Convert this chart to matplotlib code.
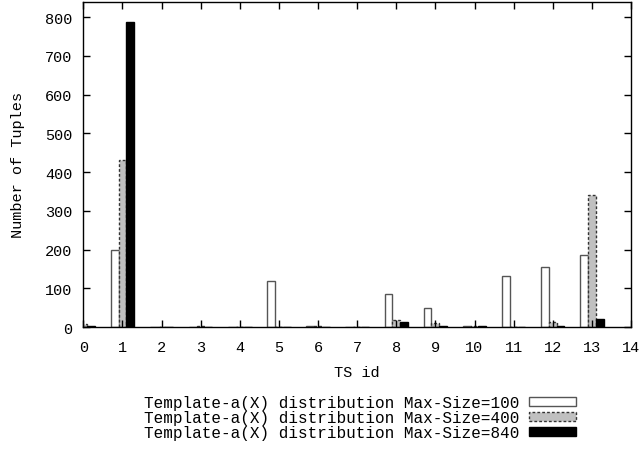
import numpy as np
import matplotlib.pyplot as plt
from matplotlib.patches import Patch

# Tuples per TS id for the three Max-Size settings
ts_ids = np.arange(14)
size_100 = [12, 200, 1, 1, 1, 120, 3, 1, 84, 50, 2, 132, 155, 185]
size_400 = [8, 432, 1, 3, 1, 1, 2, 1, 17, 10, 2, 1, 12, 340]
size_840 = [2, 788, 1, 1, 1, 1, 1, 1, 13, 3, 3, 1, 2, 21]
labels = ['Template-a(X) distribution Max-Size=100',
          'Template-a(X) distribution Max-Size=400',
          'Template-a(X) distribution Max-Size=840']

plt.rcParams['font.family'] = ['Liberation Mono', 'DejaVu Sans Mono']
plt.rcParams['font.size'] = 11

fig = plt.figure(figsize=(6.43, 4.52), dpi=100)
ax = fig.add_axes([0.1296, 0.2743, 0.8517, 0.7197])

w = 0.2
ax.bar(ts_ids - w, size_100, w, facecolor='white', edgecolor='#555555', linewidth=1.0)
ax.bar(ts_ids, size_400, w, facecolor='#c0c0c0', edgecolor='#333333', linewidth=1.0,
       linestyle=(0, (2, 1.5)))
ax.bar(ts_ids + w, size_840, w, facecolor='black', edgecolor='black', linewidth=1.0)

ax.set_xlim(0, 14)
ax.set_ylim(0, 840)
ax.set_xticks(range(15))
ax.set_yticks(range(0, 801, 100))
ax.tick_params(direction='in', top=True, right=True, length=5, width=1)
ax.tick_params(axis='x', pad=9)
ax.tick_params(axis='y', pad=8)
for s in ax.spines.values():
    s.set_linewidth(1.0)

ax.set_xlabel('TS id', labelpad=8)
ax.set_ylabel('Number of Tuples', labelpad=14)

handles = [
    Patch(facecolor='white', edgecolor='#555555', label=labels[0]),
    Patch(facecolor='#c0c0c0', edgecolor='#333333', linestyle=(0, (2, 1.5)), label=labels[1]),
    Patch(facecolor='black', edgecolor='black', label=labels[2]),
]
fig.legend(handles=handles, loc='upper center', bbox_to_anchor=(0.56, 0.142),
           frameon=False, markerfirst=False, handlelength=2.95, handleheight=0.5,
           labelspacing=0.0, handletextpad=0.6, borderpad=0,
           prop={'size': 11.5})

fig.savefig('out.png', dpi=100)
